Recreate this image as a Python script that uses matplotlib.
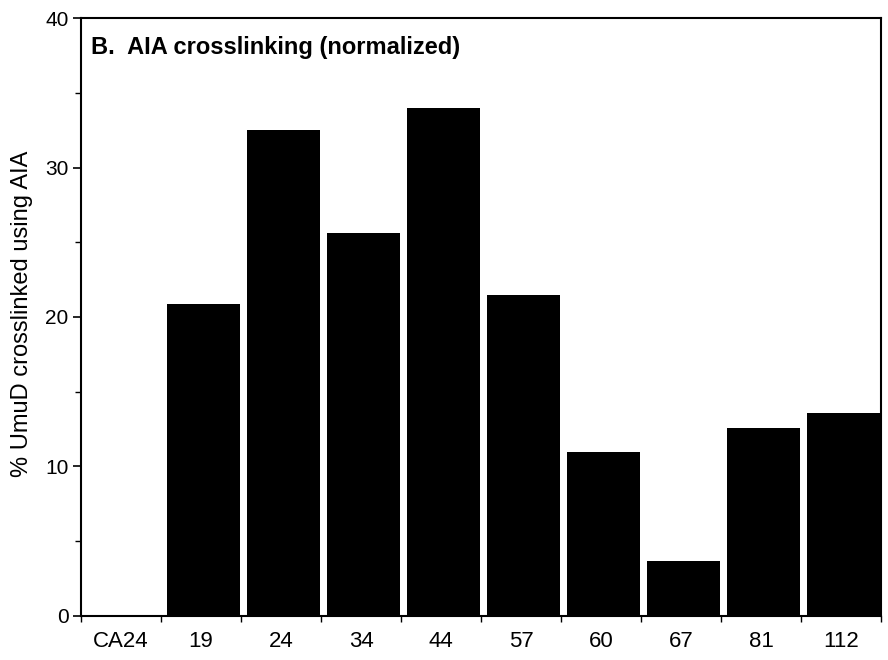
import numpy as np
import matplotlib
matplotlib.use('Agg')
import matplotlib.pyplot as plt
from matplotlib.ticker import MultipleLocator

plt.rcParams['font.family'] = ['Liberation Sans', 'DejaVu Sans']

# data
categories = ["CA24", "19", "24", "34", "44", "57", "60", "67", "81", "112"]
values = [0, 20.9, 32.5, 25.6, 34.0, 21.5, 11.0, 3.7, 12.6, 13.6]

fig = plt.figure(figsize=(8.88, 6.6), dpi=100)
ax = fig.add_axes([0.0912, 0.0667, 0.9010, 0.906])

x = np.arange(len(categories))
ax.bar(x - 0.42, values, width=0.91, align='edge', color='black', edgecolor='none')

ax.set_xlim(-0.5, len(categories) - 0.5)
ax.set_ylim(0, 40)

# y axis ticks
ax.yaxis.set_major_locator(MultipleLocator(10))
ax.yaxis.set_minor_locator(MultipleLocator(5))
ax.tick_params(axis='y', which='major', direction='out', length=6, width=1.2,
               labelsize=15, pad=3)
ax.tick_params(axis='y', which='minor', direction='out', length=4, width=1.0)

# x axis: labels centred, tick marks on category boundaries
ax.set_xticks(x)
ax.set_xticklabels(categories)
ax.set_xticks(np.arange(len(categories) + 1) - 0.5, minor=True)
ax.tick_params(axis='x', which='major', length=0, labelsize=16, pad=11)
ax.tick_params(axis='x', which='minor', direction='out', length=4, width=1.0)

for s in ax.spines.values():
    s.set_linewidth(1.5)

ax.set_ylabel("% UmuD crosslinked using AIA", fontsize=17)
ax.yaxis.set_label_coords(-0.06, 0.505)
ax.text(0.0125, 0.951, "B.  AIA crosslinking (normalized)", transform=ax.transAxes,
        fontsize=17, fontweight='bold', ha='left', va='center')

fig.savefig("out.png", dpi=100)
